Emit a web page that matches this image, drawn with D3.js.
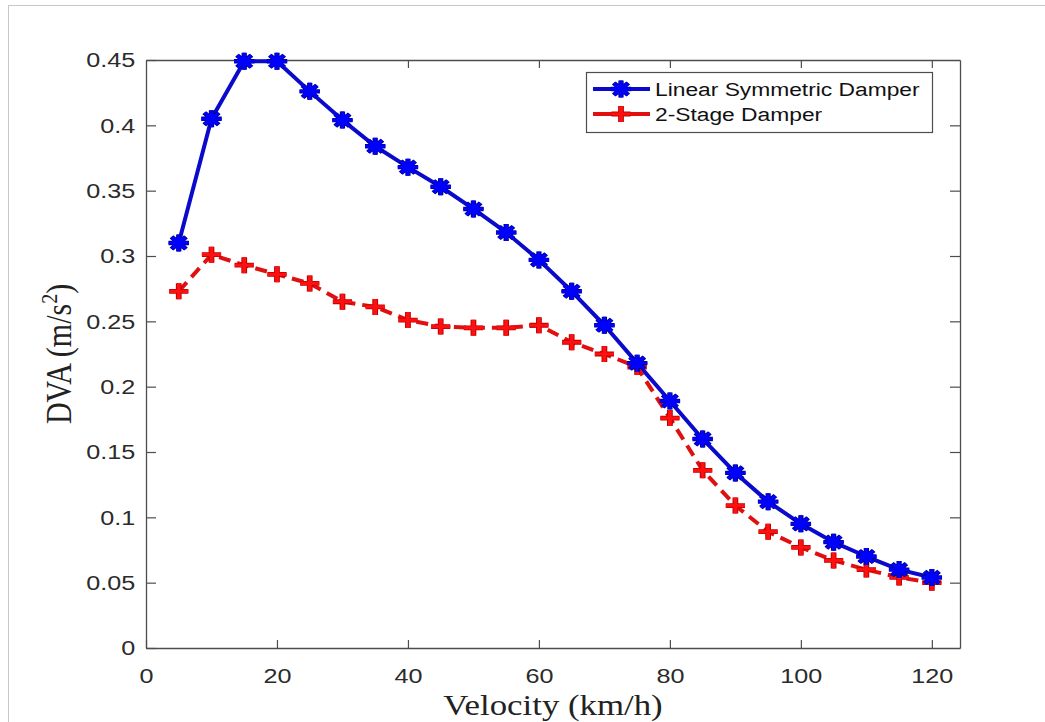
<!DOCTYPE html>
<html lang="en">
<head>
    <meta charset="UTF-8">
    <title>DVA vs Velocity</title>
    <script src="https://cdn.jsdelivr.net/npm/d3@7"></script>
    <style>
        body { margin: 0; background: #fff; }
        svg { display: block; }
    </style>
</head>
<body>
    <svg id="chart" width="1045" height="722"></svg>

    <script>
        // data
        const velocity = [5, 10, 15, 20, 25, 30, 35, 40, 45, 50, 55, 60, 65, 70, 75, 80, 85, 90, 95, 100, 105, 110, 115, 120];
        const linearDamper = [0.310, 0.405, 0.449, 0.449, 0.426, 0.404, 0.384, 0.368, 0.353, 0.336, 0.318, 0.297, 0.273, 0.247, 0.218, 0.189, 0.160, 0.134, 0.112, 0.095, 0.081, 0.070, 0.060, 0.054];
        const twoStageDamper = [0.273, 0.301, 0.293, 0.286, 0.279, 0.265, 0.261, 0.251, 0.246, 0.245, 0.245, 0.247, 0.234, 0.225, 0.215, 0.176, 0.136, 0.109, 0.089, 0.077, 0.067, 0.060, 0.054, 0.050];
        const xTicks = [0, 20, 40, 60, 80, 100, 120];
        const yTicks = [0, 0.05, 0.1, 0.15, 0.2, 0.25, 0.3, 0.35, 0.4, 0.45];
        const seriesNames = ['Linear Symmetric Damper', '2-Stage Damper'];

        const svg = d3.select('#chart');
        const sx = 1.2; // the source picture is stretched horizontally
        const plotLeft = 146, plotRight = 960, plotTop = 60, plotBottom = 648;
        const axisColor = '#4d4d4d';
        const textColor = '#2b2b2b';

        const x = d3.scaleLinear().domain([0, 124.3]).range([plotLeft, plotRight]);
        const y = d3.scaleLinear().domain([0, 0.45]).range([plotBottom, plotTop]);

        // outer page frame
        svg.append('rect')
            .attr('x', 8.5).attr('y', 5.5)
            .attr('width', 1100).attr('height', 800)
            .attr('fill', 'none')
            .attr('stroke', '#c8c8c8');

        // axes with inward ticks (box style)
        const fmt = d => d === 0 ? '0' : String(d);

        const gx = svg.append('g').attr('transform', `translate(0,${plotBottom})`)
            .call(d3.axisBottom(x).tickValues(xTicks).tickFormat(fmt).tickSizeInner(-8).tickSizeOuter(0).tickPadding(20));
        const gxTop = svg.append('g').attr('transform', `translate(0,${plotTop})`)
            .call(d3.axisTop(x).tickValues(xTicks).tickFormat('').tickSizeInner(-8).tickSizeOuter(0));
        const gy = svg.append('g').attr('transform', `translate(${plotLeft},0)`)
            .call(d3.axisLeft(y).tickValues(yTicks).tickFormat(fmt).tickSizeInner(-10).tickSizeOuter(0).tickPadding(9));
        const gyRight = svg.append('g').attr('transform', `translate(${plotRight},0)`)
            .call(d3.axisRight(y).tickValues(yTicks).tickFormat('').tickSizeInner(-10).tickSizeOuter(0));

        [gx, gxTop, gy, gyRight].forEach(g => {
            g.select('.domain').attr('stroke', axisColor).attr('stroke-width', 1.3);
            g.selectAll('.tick line').attr('stroke', axisColor).attr('stroke-width', 1.2);
            g.selectAll('.tick text')
                .attr('fill', textColor)
                .attr('font-family', 'Liberation Sans, Arial, sans-serif')
                .attr('font-size', 21)
                .attr('transform', `scale(${sx},1)`);
        });
        gyRight.selectAll('.tick').filter(d => d === 0 || d === 0.45).select('line').remove();
        gxTop.selectAll('.tick').filter(d => d === 0).select('line').remove();

        // lines
        const line = d3.line().x(d => x(d[0])).y(d => y(d[1]));
        const blueData = velocity.map((v, i) => [v, linearDamper[i]]);
        const redData = velocity.map((v, i) => [v, twoStageDamper[i]]);

        svg.append('path')
            .datum(blueData)
            .attr('d', line)
            .attr('fill', 'none')
            .attr('stroke', '#0a0acc')
            .attr('stroke-width', 4)
            .attr('stroke-linejoin', 'round');

        svg.append('path')
            .datum(redData)
            .attr('d', line)
            .attr('fill', 'none')
            .attr('stroke', '#e01010')
            .attr('stroke-width', 4)
            .attr('stroke-dasharray', '12,7');

        // markers
        function asterisk(g, cx, cy) {
            const m = g.append('g').attr('transform', `translate(${cx},${cy}) scale(${sx},1)`);
            const r = 8.5;
            const s = r * Math.SQRT1_2;
            const path = `M${-r},0L${r},0M0,${-r}L0,${r}M${-s},${-s}L${s},${s}M${-s},${s}L${s},${-s}`;
            m.append('path').attr('d', path).attr('stroke', '#00008a').attr('stroke-width', 4.4).attr('fill', 'none');
            m.append('path').attr('d', path).attr('stroke', '#0000ff').attr('stroke-width', 2.8).attr('fill', 'none');
            m.append('circle').attr('r', 5.2).attr('fill', '#0000ff');
        }
        function plus(g, cx, cy) {
            const m = g.append('g').attr('transform', `translate(${cx},${cy}) scale(${sx},1)`);
            const r = 8;
            const path = `M${-r},0L${r},0M0,${-r}L0,${r}`;
            m.append('path').attr('d', path).attr('stroke', '#b80000').attr('stroke-width', 4.8).attr('fill', 'none');
            m.append('path').attr('d', path).attr('stroke', '#ff1010').attr('stroke-width', 3.2).attr('fill', 'none');
        }

        const redMarks = svg.append('g');
        redData.forEach(d => plus(redMarks, x(d[0]), y(d[1])));
        const blueMarks = svg.append('g');
        blueData.forEach(d => asterisk(blueMarks, x(d[0]), y(d[1])));

        // legend
        const legend = svg.append('g');
        legend.append('rect')
            .attr('x', 586.5).attr('y', 72.5)
            .attr('width', 346).attr('height', 60)
            .attr('fill', '#fff')
            .attr('stroke', axisColor)
            .attr('stroke-width', 1.2);

        const legendRows = [
            { name: seriesNames[0], y: 89, color: '#0a0acc', marker: asterisk },
            { name: seriesNames[1], y: 114, color: '#e01010', marker: plus }
        ];
        legendRows.forEach(row => {
            legend.append('line')
                .attr('x1', 593).attr('x2', 650)
                .attr('y1', row.y).attr('y2', row.y)
                .attr('stroke', row.color)
                .attr('stroke-width', 4);
            row.marker(legend, 621, row.y);
            legend.append('text')
                .attr('transform', `translate(655,${row.y + 7}) scale(${sx},1)`)
                .attr('font-family', 'Liberation Sans, Arial, sans-serif')
                .attr('font-size', 19)
                .attr('fill', '#111')
                .text(row.name);
        });

        // axis titles
        svg.append('text')
            .attr('transform', `translate(${(plotLeft + plotRight) / 2},715) scale(${sx},1)`)
            .attr('text-anchor', 'middle')
            .attr('font-family', 'Liberation Serif, Times New Roman, serif')
            .attr('font-size', 29)
            .attr('fill', '#222')
            .text('Velocity (km/h)');

        const yTitle = svg.append('text')
            .attr('transform', `translate(71,${(plotTop + plotBottom) / 2}) scale(${sx},1) rotate(-90)`)
            .attr('text-anchor', 'middle')
            .attr('font-family', 'Liberation Serif, Times New Roman, serif')
            .attr('font-size', 30)
            .attr('fill', '#222');
        yTitle.append('tspan').text('DVA (m/s');
        yTitle.append('tspan').attr('font-size', 20).attr('dy', -12).text('2');
        yTitle.append('tspan').attr('dy', 12).text(')');
    </script>
</body>
</html>
